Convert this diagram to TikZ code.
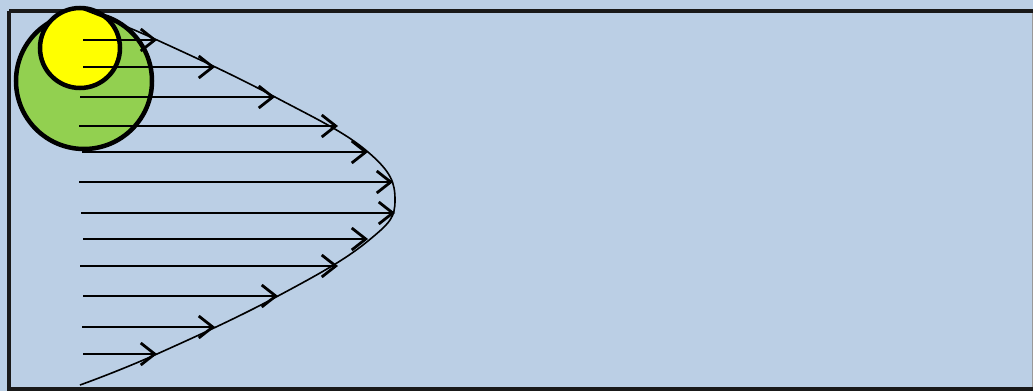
\documentclass[tikz,border=0pt]{standalone}
\usetikzlibrary{arrows.meta}
\definecolor{bgblue}{HTML}{BBCFE5}
\definecolor{ballgreen}{HTML}{92D050}
\definecolor{ballyellow}{HTML}{FFFF00}
\tikzset{
  frame/.style={draw=black!90, line width=4.5pt},
  ball/.style={draw=black, line width=4.5pt},
  vel/.style={draw=black, line width=2.8pt, -{Straight Barb[length=14pt,width=22pt,line width=2.8pt]}},
  profile/.style={draw=black, line width=1.6pt}
}
\begin{document}
\begin{tikzpicture}[x=1pt,y=-1pt]
\useasboundingbox (0,0) rectangle (1033,391);
\fill[bgblue] (0,0) rectangle (1033,391);
\draw[frame] (9,11) -- (1040,11);
\draw[frame] (9,11) -- (9,389) -- (1040,389);
\draw[black!40, line width=1pt] (1032,13) -- (1032,387);
% balls
\node[ball, fill=ballgreen, circle, minimum size=136pt, inner sep=0pt] (green) at (84,81) {};
\node[ball, fill=ballyellow, circle, minimum size=80pt, inner sep=0pt] (yellow) at (80,48) {};
% tips on the profile
\coordinate (t1) at (157,40);
\coordinate (t2) at (215,67);
\coordinate (t3) at (275,97);
\coordinate (t4) at (338,126);
\coordinate (t5) at (368,152);
\coordinate (t6) at (393,182);
\coordinate (t7) at (395,213);
\coordinate (t8) at (368,239);
\coordinate (t9) at (338,266);
\coordinate (t10) at (278,296);
\coordinate (t11) at (215,327);
\coordinate (t12) at (157,354);
\coordinate (s1) at (83,40);
\coordinate (s2) at (83,67);
\coordinate (s3) at (80,97);
\coordinate (s4) at (79,126);
\coordinate (s5) at (82,152);
\coordinate (s6) at (79,182);
\coordinate (s7) at (81,213);
\coordinate (s8) at (83,239);
\coordinate (s9) at (80,266);
\coordinate (s10) at (83,296);
\coordinate (s11) at (82,327);
\coordinate (s12) at (83,354);
\foreach \i in {1,...,12} {\draw[vel] (s\i) -- (t\i);}
\coordinate (top) at (82,9);
\coordinate (bot) at (80,385);
\draw[profile] plot[smooth, tension=0.7] coordinates {(82,9) (157,40) (275,97) (368,152) (395,200) (368,241) (278,296) (157,354) (80,385)};
\end{tikzpicture}
\end{document}
